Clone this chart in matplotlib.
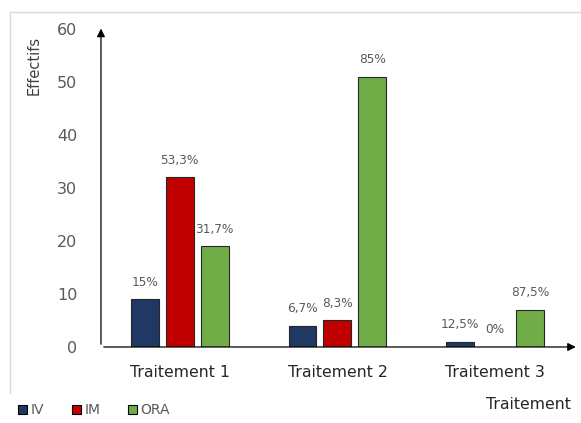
import numpy as np
import matplotlib.pyplot as plt
from matplotlib.lines import Line2D
from matplotlib.patches import Patch

plt.rcParams['font.family'] = ['DejaVu Sans']

# données
categories = ['Traitement 1', 'Traitement 2', 'Traitement 3']
series = ['IV', 'IM', 'ORA']
iv = [9, 4, 1]
im = [32, 5, 0]
ora = [19, 51, 7]
iv_pct = ['15%', '6,7%', '12,5%']
im_pct = ['53,3%', '8,3%', '0%']
ora_pct = ['31,7%', '85%', '87,5%']
yticks = [0, 10, 20, 30, 40, 50, 60]

colors = ['#1F3864', '#C00000', '#70AD47']
values = [iv, im, ora]
pcts = [iv_pct, im_pct, ora_pct]

fig = plt.figure(figsize=(5.81, 4.23), dpi=100)
ax = fig.add_axes([0.1738, 0.1797, 0.814, 0.7517])

x = np.arange(len(categories))
w = 0.177
step = 0.2215
for i, (vals, lab, c) in enumerate(zip(values, pcts, colors)):
    xs = x + (i - 1) * step
    ax.bar(xs, vals, width=w, color=c, edgecolor='#262626', linewidth=0.8, zorder=2)
    for xi, v, t in zip(xs, vals, lab):
        ax.text(xi, v + 2.0, t, ha='center', va='bottom', fontsize=8.7, color='#595959')

ax.set_xlim(-0.5, 2.5)
ax.set_ylim(0, 60)
ax.set_yticks(yticks)
ax.set_xticks(x)
ax.set_xticklabels(categories, fontsize=11.3, color='#262626')
ax.tick_params(axis='y', length=0, labelsize=11.5, labelcolor='#595959', pad=17)
ax.tick_params(axis='x', length=0, pad=13)
for s in ax.spines.values():
    s.set_visible(False)

# axes avec flèches
ax.annotate('', xy=(0, 1.01), xycoords='axes fraction', xytext=(0, 0),
            arrowprops=dict(arrowstyle='-|>', color='black', lw=0.9, mutation_scale=12))
ax.annotate('', xy=(1.01, 0), xycoords='axes fraction', xytext=(0, 0),
            arrowprops=dict(arrowstyle='-|>', color='black', lw=0.9, mutation_scale=12))

fig.text(0.058, 0.846, 'Effectifs', rotation=90, ha='center', va='center',
         fontsize=10.5, color='#404040')
fig.text(0.982, 0.043, 'Traitement', ha='right', va='center', fontsize=11.3, color='#262626')

# cadre gris clair
fig.add_artist(Line2D([0.0172, 1.0], [0.972, 0.972], color='#D9D9D9', lw=1))
fig.add_artist(Line2D([0.0172, 0.0172], [0.972, 0.071], color='#D9D9D9', lw=1))

handles = [Patch(facecolor=c, edgecolor='black', linewidth=0.8) for c in colors]
fig.legend(handles, series, loc='center left', bbox_to_anchor=(0.031, 0.03), ncol=3,
           frameon=False, fontsize=10, labelcolor='#595959', handlelength=0.65,
           handleheight=0.65, handletextpad=0.25, columnspacing=2.0,
           borderpad=0, borderaxespad=0)

fig.savefig('out.png', dpi=100)
